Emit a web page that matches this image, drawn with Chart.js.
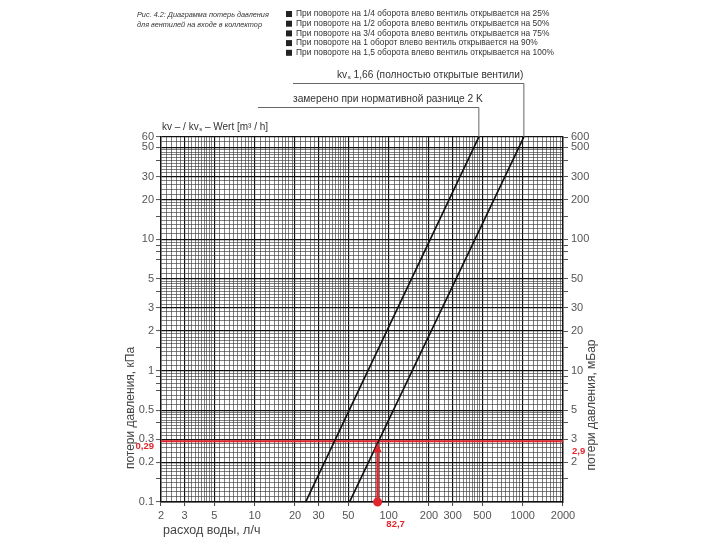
<!DOCTYPE html>
<html><head><meta charset="utf-8">
<script src="https://cdn.jsdelivr.net/npm/chart.js@4.4.1/dist/chart.umd.min.js"></script>
<style>html,body{margin:0;padding:0;background:#fff}canvas{display:block}</style>
</head><body>
<canvas id="c" width="720" height="540"></canvas>
<script>
// ---------- data ----------
const titleLines = ['Рис. 4.2: Диаграмма потерь давления', 'для вентилей на входе в коллектор'];
const legendItems = [
  'При повороте на 1/4 оборота влево вентиль открывается на 25%',
  'При повороте на 1/2 оборота влево вентиль открывается на 50%',
  'При повороте на 3/4 оборота влево вентиль открывается на 75%',
  'При повороте на 1 оборот влево вентиль открывается на 90%',
  'При повороте на 1,5 оборота влево вентиль открывается на 100%'
];
const flowTicks = [2, 3, 5, 10, 20, 30, 50, 100, 200, 300, 500, 1000, 2000];
const flowLabels = ['2', '3', '5', '10', '20', '30', '50', '100', '200', '300', '500', '1000', '2000'];
const kpaTicks = [0.1, 0.2, 0.3, 0.5, 1, 2, 3, 5, 10, 20, 30, 50, 60];
const kpaLabels = ['0.1', '0.2', '0.3', '0.5', '1', '2', '3', '5', '10', '20', '30', '50', '60'];
const kpaMinorTicks = [0.15, 0.4, 0.7, 0.8, 0.9, 1.5, 4, 7, 8, 9, 15, 40];
const mbarTicks = [2, 3, 5, 10, 20, 30, 50, 100, 200, 300, 500, 600];
const mbarLabels = ['2', '3', '5', '10', '20', '30', '50', '100', '200', '300', '500', '600'];
const mbarMinorTicks = [1.5, 4, 7, 8, 9, 15, 40, 70, 80, 90, 150, 400];
// measured line: "замерено при нормативной разнице 2 K"
const curveMeasuredFlow = [24, 471];
const curveMeasuredDp = [0.1, 60];
// kvs 1,66 fully open
const curveKvsFlow = [51, 1021];
const curveKvsDp = [0.1, 60];
// reading example
const readDp = 0.29;
const readFlow = 82.7;
const annoKvs = ['kv', 's', ' 1,66 (полностью открытые вентили)'];
const annoMeasured = 'замерено при нормативной разнице 2 K';
const annoAxisNote = ['kv – / kv', 's', ' – Wert [m³ / h]'];
const yTitleLeft = 'потери давления, кПа';
const yTitleRight = 'потери давления, мБар';
const xTitle = 'расход воды, л/ч';

// ---------- grid structure (log paper) ----------
const gridMantissas = [1,1.1,1.2,1.3,1.4,1.5,1.6,1.7,1.8,1.9,2,2.2,2.4,2.6,2.8,3,3.2,3.4,3.6,3.8,4,4.2,4.4,4.6,4.8,5,5.5,6,6.5,7,7.5,8,8.5,9,9.5];
function gridValues(min, max) {
  const out = [];
  for (let d = -2; d <= 4; d++) {
    for (const m of gridMantissas) {
      const v = Number((m * Math.pow(10, d)).toPrecision(6));
      if (v >= min - 1e-9 && v <= max + 1e-9) out.push(v);
    }
  }
  return out;
}
const near = (a, b) => Math.abs(a - b) < Math.abs(b) * 1e-6;
const inList = (v, list) => list.some(t => near(v, t));
const labelOf = (v, vals, labels) => { const i = vals.findIndex(t => near(v, t)); return i >= 0 ? labels[i] : ''; };

const FONT = 'Liberation Sans, Arial, sans-serif';
const RED = '#e0262c';
const gridColor = (list) => (ctx) => inList(ctx.tick.value, list) ? '#111' : '#3a3a3a';
const gridWidth = (list) => (ctx) => inList(ctx.tick.value, list) ? 1.15 : 0.65;

const overlay = {
  id: 'overlay',
  afterDraw(chart) {
    const c = chart.ctx;
    const xs = chart.scales.x, ys = chart.scales.y;
    const top = chart.chartArea.top;
    c.save();
    c.textBaseline = 'middle';
    // title
    c.fillStyle = '#333';
    c.font = 'italic 7.3px ' + FONT;
    c.textAlign = 'left';
    c.fillText(titleLines[0], 137, 15);
    c.fillText(titleLines[1], 137, 24.5);
    // legend
    c.font = '8.4px ' + FONT;
    legendItems.forEach((t, i) => {
      const y = 14 + i * 9.7;
      c.fillStyle = '#222';
      c.fillRect(286, y - 3, 6, 6);
      c.fillStyle = '#333';
      c.fillText(t, 296, y);
    });
    // annotations with leader lines
    const xKvsTop = xs.getPixelForValue(curveKvsFlow[1]);
    const xMeasTop = xs.getPixelForValue(curveMeasuredFlow[1]);
    c.strokeStyle = '#666';
    c.lineWidth = 1;
    c.beginPath();
    c.moveTo(293, 83.5); c.lineTo(xKvsTop, 83.5); c.lineTo(xKvsTop, top);
    c.moveTo(258, 107.5); c.lineTo(xMeasTop, 107.5); c.lineTo(xMeasTop, top);
    c.stroke();
    c.fillStyle = '#333';
    const drawSub = (parts, x, y, size) => {
      c.font = size + 'px ' + FONT;
      c.fillText(parts[0], x, y); x += c.measureText(parts[0]).width;
      c.font = (size * 0.6) + 'px ' + FONT;
      c.fillText(parts[1], x + 0.5, y + 2.5); x += c.measureText(parts[1]).width + 0.5;
      c.font = size + 'px ' + FONT;
      c.fillText(parts[2], x, y);
    };
    drawSub(annoKvs, 337, 75, 10.2);
    c.font = '10.2px ' + FONT;
    c.fillText(annoMeasured, 293, 99);
    drawSub(annoAxisNote, 162, 127, 10);
    // axis titles
    c.fillStyle = '#444';
    c.font = '12px ' + FONT;
    c.textAlign = 'center';
    c.save(); c.translate(131, 408); c.rotate(-Math.PI / 2); c.fillText(yTitleLeft, 0, 0); c.restore();
    c.save(); c.translate(592, 405); c.rotate(-Math.PI / 2); c.fillText(yTitleRight, 0, 0); c.restore();
    c.textAlign = 'left';
    c.font = '12.5px ' + FONT;
    c.fillText(xTitle, 163, 531);
    // red arrow head & labels
    const ax = xs.getPixelForValue(readFlow);
    const ay = ys.getPixelForValue(readDp);
    c.fillStyle = RED;
    c.beginPath();
    c.moveTo(ax, ay + 2);
    c.lineTo(ax - 4, ay + 11);
    c.lineTo(ax + 4, ay + 11);
    c.closePath();
    c.fill();
    c.font = 'bold 9.5px ' + FONT;
    c.textAlign = 'right';
    c.fillText(String(readDp).replace('.', ','), 154, ay + 5);
    c.textAlign = 'left';
    c.fillText(String(readDp * 10).replace('.', ','), 572, ay + 10);
    c.textAlign = 'center';
    c.fillText(String(readFlow).replace('.', ','), ax + 18, 524);
    c.restore();
  }
};

const xGrid = gridValues(2, 2000);
const yGrid = gridValues(0.1, 60);
const y2Marks = mbarTicks.concat(mbarMinorTicks).sort((a, b) => a - b);

new Chart(document.getElementById('c'), {
  type: 'scatter',
  data: {
    datasets: [
      { data: curveMeasuredFlow.map((f, i) => ({ x: f, y: curveMeasuredDp[i] })), showLine: true, borderColor: '#111', borderWidth: 1.7, pointRadius: 0 },
      { data: curveKvsFlow.map((f, i) => ({ x: f, y: curveKvsDp[i] })), showLine: true, borderColor: '#111', borderWidth: 1.7, pointRadius: 0 },
      { data: [{ x: flowTicks[0], y: readDp }, { x: flowTicks[flowTicks.length - 1], y: readDp }], showLine: true, borderColor: RED, borderWidth: 2.2, pointRadius: 0 },
      { data: [{ x: readFlow, y: kpaTicks[0] }, { x: readFlow, y: readDp }], showLine: true, borderColor: RED, borderWidth: 2.6, pointRadius: [3.2, 0], pointBackgroundColor: RED, pointBorderColor: RED, clip: false }
    ]
  },
  options: {
    responsive: false,
    animation: false,
    devicePixelRatio: 1,
    layout: { padding: { top: 137, left: 0, right: 0, bottom: 0 } },
    plugins: { legend: { display: false }, tooltip: { enabled: false } },
    scales: {
      x: {
        type: 'logarithmic', position: 'bottom', min: 2, max: 2000,
        afterFit: s => { s.height = 38; },
        afterBuildTicks: s => { s.ticks = xGrid.map(v => ({ value: v })); },
        ticks: { autoSkip: false, maxRotation: 0, minRotation: 0, color: '#555', padding: 3, font: { size: 11, family: FONT },
          callback: v => labelOf(v, flowTicks, flowLabels) },
        grid: { color: gridColor(flowTicks), lineWidth: gridWidth(flowTicks), tickLength: 4,
          tickColor: ctx => inList(ctx.tick.value, flowTicks) ? '#444' : 'rgba(0,0,0,0)', tickWidth: 1 },
        border: { display: true, color: '#111', width: 1.6 }
      },
      y: {
        type: 'logarithmic', position: 'left', min: 0.1, max: 60,
        afterFit: s => { s.width = 161; },
        afterBuildTicks: s => { s.ticks = yGrid.map(v => ({ value: v })); },
        ticks: { autoSkip: false, color: '#555', padding: 2, font: { size: 11, family: FONT },
          callback: v => labelOf(v, kpaTicks, kpaLabels) },
        grid: { color: gridColor(kpaTicks), lineWidth: gridWidth(kpaTicks), tickLength: 5,
          tickColor: ctx => inList(ctx.tick.value, kpaTicks) || inList(ctx.tick.value, kpaMinorTicks) ? '#555' : 'rgba(0,0,0,0)', tickWidth: 1 },
        border: { display: true, color: '#111', width: 1.4 }
      },
      y2: {
        type: 'logarithmic', position: 'right', min: 1, max: 600,
        afterFit: s => { s.width = 157; },
        afterBuildTicks: s => { s.ticks = y2Marks.map(v => ({ value: v })); },
        ticks: { autoSkip: false, color: '#555', padding: 3, font: { size: 11, family: FONT },
          callback: v => labelOf(v, mbarTicks, mbarLabels) },
        grid: { drawOnChartArea: false, tickLength: 5, color: '#555', tickColor: '#555', tickWidth: 1 },
        border: { display: true, color: '#111', width: 1.4 }
      }
    }
  },
  plugins: [overlay]
});
</script>
</body></html>
